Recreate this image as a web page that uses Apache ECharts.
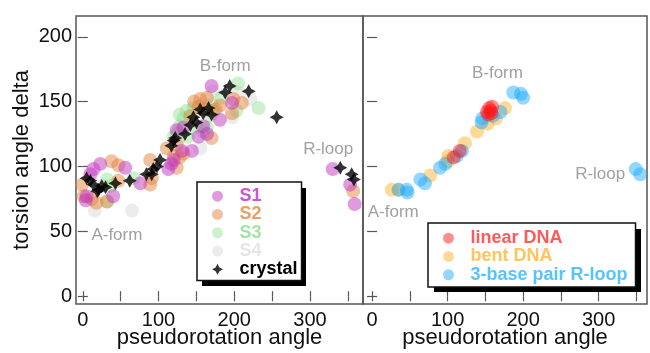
<!DOCTYPE html>
<html>
<head>
<meta charset="utf-8">
<script src="https://cdn.jsdelivr.net/npm/echarts@6/dist/echarts.min.js"></script>
<style>
  html, body { margin: 0; padding: 0; background: #fff; }
  #chart { width: 650px; height: 353px; }
</style>
</head>
<body>
<div id="chart"></div>
<script>
// left panel: simulation states S1..S4 plus crystal structures
const s1 = [[5,77],[4,74],[14,98],[10,94],[23,102],[56,99],[40,77],[76,87],[113,98],[117,102],
  [133,130],[144,112],[153,123],[170,162],[181,136],[197,149],[164,125],[124,128],[120,105],[131,112],
  [159,131],[330,98],[353,86],[359,71]]
const s2 = [[-1,86],[1,77],[12,75],[18,72],[32,73],[38,104],[47,101],[47,89],[89,105],[91,91],
  [89,86],[111,114],[120,108],[124,117],[133,110],[142,139],[153,146],[164,153],[175,144],[170,122],
  [210,149],[197,141],[147,150],[155,152],[163,144],[181,147],[199,152],[128,107],[124,99],[357,81]]
const s3 = [[32,90],[32,73],[67,91],[36,85],[128,131],[137,143],[146,145],[133,137],[139,123],[124,125],
  [159,127],[168,139],[170,148],[183,153],[205,164],[203,143],[232,145],[150,131],[164,130],[172,143],
  [128,140],[120,123]]
const s4 = [[16,66],[65,66],[155,114],[205,157],[221,152],[197,138],[172,158],[126,121],[25,85],[160,148]]
const crystal = [[5,91],[10,89],[14,86],[21,82],[25,85],[19,81],[30,84],[43,87],[62,89],[84,94],
  [91,94],[98,100],[102,105],[117,116],[120,120],[122,122],[135,125],[142,132],[146,138],[155,144],
  [159,141],[170,140],[188,157],[194,162],[219,158],[256,138],[93,98],[150,134],[166,145],
  [340,99],[355,94],[358,90]]

// right panel: model structures
const linearDNA = [[108,107],[116,112],[152,142],[155,145],[157,143],[159,146],[154,140],[158,141]]
const bentDNA = [[26,82],[35,82],[77,93],[101,108],[123,118],[139,127],[153,133],[176,145],[100,104],[164,137]]
const rloop = [[35,82],[46,82],[47,80],[64,90],[70,87],[90,99],[97,102],[112,108],[119,112],[145,134],
  [146,137],[160,139],[170,142],[187,157],[197,156],[200,153],[349,98],[355,94]]

const leftNotes = [{ name: 'B-form', value: [188, 177] }, { name: 'A-form', value: [45, 47] }, { name: 'R-loop', value: [324, 113] }]
const rightNotes = [{ name: 'B-form', value: [166, 172] }, { name: 'A-form', value: [28, 65] }, { name: 'R-loop', value: [302, 94] }]

const xTicks = [0, 50, 100, 150, 200, 250, 300, 350]
const xLabels = [0, 100, 200, 300]
const yTicks = [0, 50, 100, 150, 200]

const font = 'Liberation Sans, Arial, sans-serif'
const starPath = 'path://M0,-10L3.5,-3.5L10,0L3.5,3.5L0,10L-3.5,3.5L-10,0L-3.5,-3.5Z'

const chart = echarts.init(document.getElementById('chart'))

const xAxisFor = (grid, min, max, bottom) => ({
  type: 'value', gridIndex: grid, min, max, position: bottom ? 'bottom' : 'top',
  splitLine: { show: false }, axisLine: { show: false },
  axisTick: { show: true, inside: true, length: 5, lineStyle: { color: '#555', width: 1.2 }, customValues: xTicks },
  axisLabel: bottom
    ? { show: true, customValues: xLabels, fontSize: 20, color: '#111', fontFamily: font, margin: 6 }
    : { show: false },
  name: bottom ? 'pseudorotation angle' : '', nameLocation: 'middle', nameGap: 23, nameMoveOverlap: false,
  nameTextStyle: { fontSize: 22, color: '#111', fontFamily: font },
})

const yAxisFor = (grid, pos, labels) => ({
  type: 'value', gridIndex: grid, min: -6, max: 216, position: pos,
  splitLine: { show: false }, axisLine: { show: false },
  axisTick: { show: true, inside: true, length: 5, lineStyle: { color: '#555', width: 1.2 }, customValues: yTicks },
  axisLabel: labels
    ? { show: true, customValues: yTicks, fontSize: 20, color: '#111', fontFamily: font, margin: 4 }
    : { show: false },
  name: labels ? 'torsion angle delta' : '', nameLocation: 'middle', nameGap: 43, nameMoveOverlap: false,
  nameTextStyle: { fontSize: 22, color: '#111', fontFamily: font },
})

const dots = (name, data, color, xi) => ({
  name, type: 'scatter', xAxisIndex: xi, yAxisIndex: xi * 2, data,
  symbol: 'circle', symbolSize: 14, itemStyle: { color }, silent: true,
})

const notes = (data, xi) => ({
  type: 'scatter', xAxisIndex: xi, yAxisIndex: xi * 2, data, symbolSize: 0, silent: true, z: 1,
  label: { show: true, position: 'inside', formatter: '{b}', color: '#888', fontSize: 17, fontFamily: font },
})

const legendItem = (name, color, icon) => ({ name, icon: icon || 'circle', textStyle: { color } })

const legendBase = {
  orient: 'vertical', itemWidth: 34, itemHeight: 11, itemGap: 0, z: 6,
  backgroundColor: '#fff', borderColor: '#111', borderWidth: 1.5,
  textStyle: { fontSize: 18, fontWeight: 'bold', fontFamily: font, lineHeight: 18.3 },
  selectedMode: false,
}

// hard drop shadows behind the two legend boxes
const dropShadow = (x, y, w, h) => ({ type: 'rect', left: x, top: y, z: 5, silent: true, shape: { width: w, height: h }, style: { fill: '#000' } })

chart.setOption({
  animation: false,
  grid: [
    { left: 76, top: 16, width: 287, height: 288, show: true, borderColor: '#555', borderWidth: 1.5, outerBoundsMode: 'none' },
    { left: 363, top: 16, width: 284, height: 288, show: true, borderColor: '#555', borderWidth: 1.5, outerBoundsMode: 'none' },
  ],
  graphic: [dropShadow(202, 188, 104, 98), dropShadow(434, 229, 207, 63)],
  xAxis: [
    xAxisFor(0, -9, 370, true), xAxisFor(1, -12, 364, true),
    xAxisFor(0, -9, 370, false), xAxisFor(1, -12, 364, false),
  ],
  yAxis: [
    yAxisFor(0, 'left', true), yAxisFor(0, 'right', false),
    yAxisFor(1, 'left', false), yAxisFor(1, 'right', false),
  ],
  legend: [
    Object.assign({}, legendBase, {
      left: 197, top: 182, padding: [5, 4, 2, 15],
      data: [
        legendItem('S1', '#cc55cc'), legendItem('S2', '#eaa064'), legendItem('S3', '#a4e4a4'),
        legendItem('S4', '#e6e6e6'), legendItem('crystal', '#000', starPath),
      ],
    }),
    Object.assign({}, legendBase, {
      left: 428, top: 223, padding: [6, 8, 3, 15],
      data: [
        legendItem('linear DNA', '#ff5a5a'), legendItem('bent DNA', '#ffc45c'),
        legendItem('3-base pair R-loop', '#55c4ff'),
      ],
    }),
  ],
  series: [
    notes(leftNotes, 0),
    notes(rightNotes, 1),
    dots('S4', s4, 'rgba(215,215,215,0.6)', 0),
    dots('S3', s3, 'rgba(140,222,140,0.55)', 0),
    dots('S2', s2, 'rgba(226,128,56,0.6)', 0),
    dots('S1', s1, 'rgba(192,52,192,0.62)', 0),
    {
      name: 'crystal', type: 'scatter', xAxisIndex: 0, yAxisIndex: 0, data: crystal,
      symbol: starPath, symbolSize: 14, itemStyle: { color: '#000' }, silent: true,
    },
    dots('bent DNA', bentDNA, 'rgba(255,176,40,0.6)', 1),
    dots('3-base pair R-loop', rloop, 'rgba(30,170,255,0.6)', 1),
    dots('linear DNA', linearDNA, 'rgba(255,20,20,0.6)', 1),
  ],
})
</script>
</body>
</html>
